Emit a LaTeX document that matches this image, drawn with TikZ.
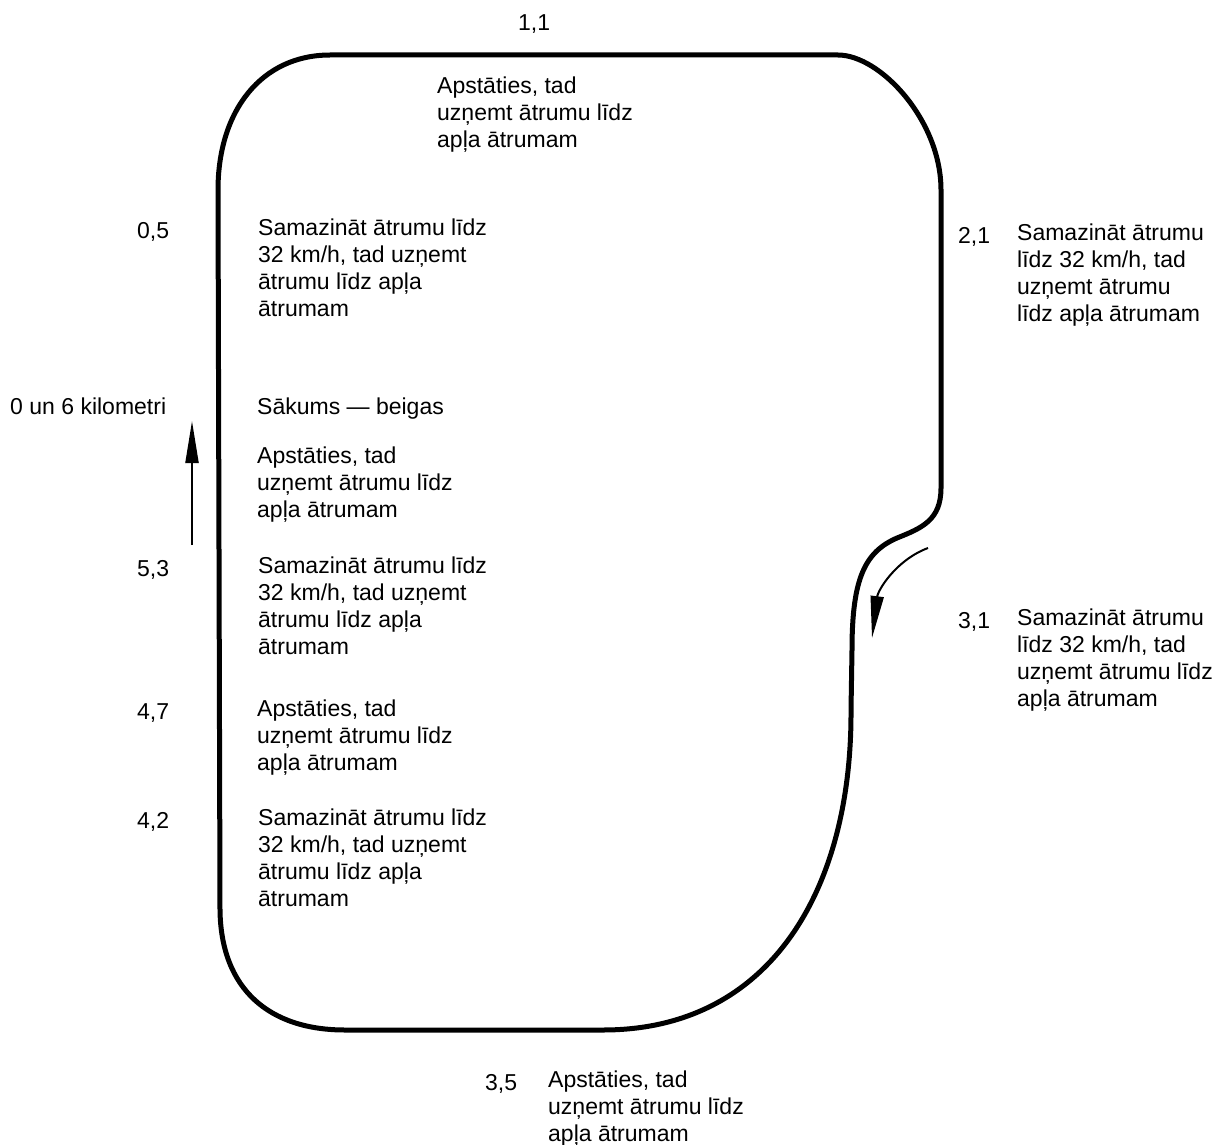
\documentclass[tikz,border=0pt]{standalone}
\usepackage{fontspec}
\setmainfont{Liberation Sans}
\usetikzlibrary{arrows.meta}

\begin{document}
\begin{tikzpicture}[x=1pt, y=-1pt, color=black,
  >={Triangle[length=42pt,width=13pt]},
  lbl/.style={anchor=north west, inner sep=0pt, align=left,
    font=\fontsize{23}{27}\selectfont, execute at begin node=\strut}]
  \useasboundingbox (0,0) rectangle (1213,1145);
  % Track outline, driven anticlockwise on the page
  \draw[line width=5pt, line join=round]
    (218,190) .. controls (218,110) and (262,55) .. (330,55)
    -- (838,55) .. controls (880,55) and (941,120) .. (941,190)
    -- (941,488) .. controls (941,520) and (922,528) .. (897,538)
    .. controls (865,552) and (852,578) .. (852,650)
    -- (851,710) .. controls (852,890) and (770,1030) .. (603,1030)
    -- (345,1030) .. controls (270,1030) and (221,990) .. (220,910) -- cycle;
  % Direction of travel
  \coordinate (upTail) at (192,545);
  \coordinate (upTip) at (192,421);
  \draw[->, line width=2pt] (upTail) -- (upTip);
  \coordinate (bendTail) at (928,548);
  \coordinate (bendTip) at (872,638);
  \draw[->, line width=2pt] (bendTail) .. controls (896,560) and (878,590) .. (bendTip);
  % Kilometre marks and instructions
  \node[lbl] (km11) at (518,11) {1,1};
  \node[lbl] (txt11) at (437,77) {Apstāties, tad\\uzņemt ātrumu līdz\\apļa ātrumam};
  \node[lbl] (km05) at (137,219) {0,5};
  \node[lbl] (txt05) at (258,219) {Samazināt ātrumu līdz\\32 km/h, tad uzņemt\\ātrumu līdz apļa\\ātrumam};
  \node[lbl] (km0) at (10,395) {0 un 6 kilometri};
  \node[lbl] (txt0) at (257,395) {Sākums — beigas};
  \node[lbl] (txtStop) at (257,447) {Apstāties, tad\\uzņemt ātrumu līdz\\apļa ātrumam};
  \node[lbl] (km53) at (137,557) {5,3};
  \node[lbl] (txt53) at (258,557) {Samazināt ātrumu līdz\\32 km/h, tad uzņemt\\ātrumu līdz apļa\\ātrumam};
  \node[lbl] (km47) at (137,700) {4,7};
  \node[lbl] (txt47) at (257,700) {Apstāties, tad\\uzņemt ātrumu līdz\\apļa ātrumam};
  \node[lbl] (km42) at (137,809) {4,2};
  \node[lbl] (txt42) at (258,809) {Samazināt ātrumu līdz\\32 km/h, tad uzņemt\\ātrumu līdz apļa\\ātrumam};
  \node[lbl] (km21) at (958,224) {2,1};
  \node[lbl] (txt21) at (1017,224) {Samazināt ātrumu\\līdz 32 km/h, tad\\uzņemt ātrumu\\līdz apļa ātrumam};
  \node[lbl] (km31) at (958,609) {3,1};
  \node[lbl] (txt31) at (1017,609) {Samazināt ātrumu\\līdz 32 km/h, tad\\uzņemt ātrumu līdz\\apļa ātrumam};
  \node[lbl] (km35) at (485,1071) {3,5};
  \node[lbl] (txt35) at (548,1071) {Apstāties, tad\\uzņemt ātrumu līdz\\apļa ātrumam};
\end{tikzpicture}
\end{document}
